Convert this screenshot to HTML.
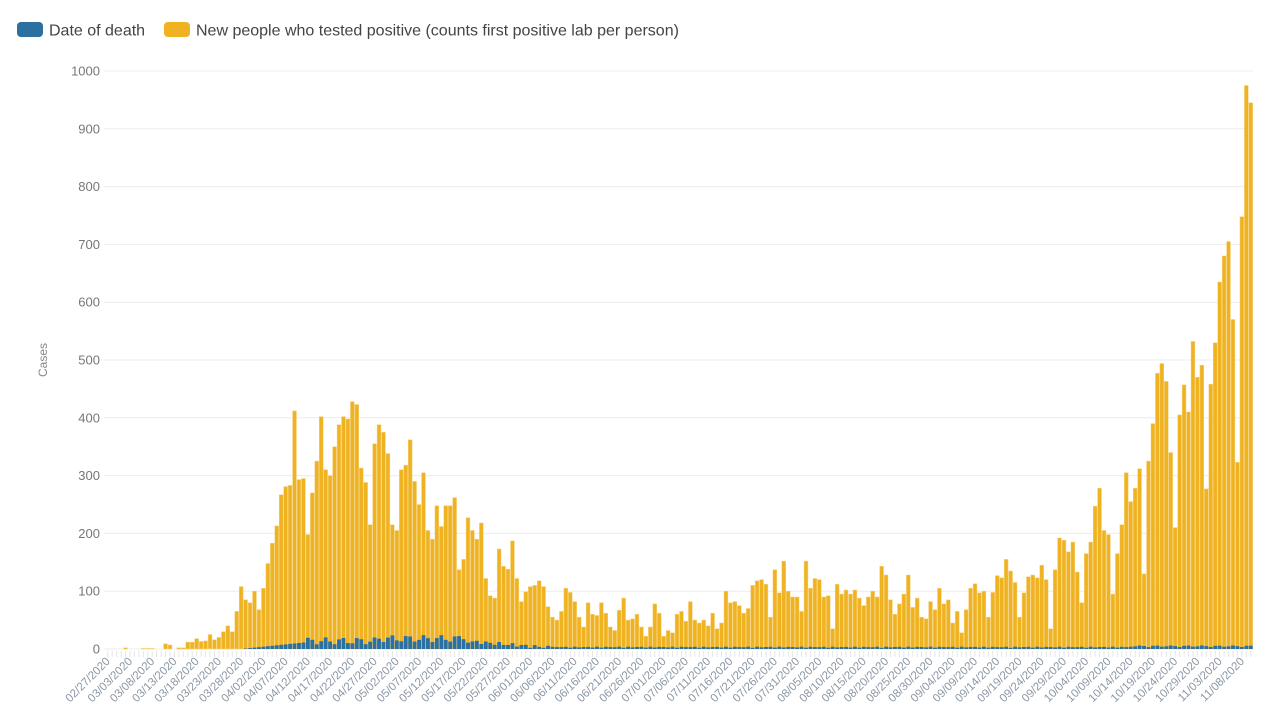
<!DOCTYPE html>
<html><head><meta charset="utf-8"><style>
html,body{margin:0;padding:0;background:#fff;width:1263px;height:711px;overflow:hidden;font-family:"Liberation Sans",sans-serif}
</style></head><body>
<svg id="c" width="1263" height="711" xmlns="http://www.w3.org/2000/svg" font-family="Liberation Sans, sans-serif"></svg>
<script>
var v=[0,0,0,3,0,0,0,0,2,0,0,0,1,1,1,0,0,9,7,0,2,2,12,12,18,13,14,25,16,20,30,40,30,65,108,85,80,100,68,105,148,183,213,267,281,283,412,293,295,198,270,325,402,310,300,350,388,402,398,428,423,313,288,215,355,388,375,338,215,205,310,318,362,290,250,305,205,190,248,212,248,248,262,137,155,227,205,190,218,122,92,88,173,143,138,187,122,82,99,108,110,118,108,73,55,50,65,105,98,82,55,38,80,60,58,80,62,38,32,67,88,50,52,60,38,22,38,78,62,22,32,28,60,65,48,82,50,45,50,40,62,35,45,100,80,82,75,62,70,110,118,120,112,55,137,97,152,100,90,90,65,152,105,122,120,90,92,35,112,95,102,95,102,88,75,90,100,90,143,128,85,60,78,95,128,72,88,55,52,82,68,105,78,85,45,65,28,68,105,113,97,100,55,98,127,123,155,135,115,55,97,125,128,123,145,120,35,137,192,188,168,185,133,80,165,185,247,278,205,198,95,165,215,305,255,278,312,130,325,390,477,494,463,340,210,405,457,410,532,470,491,277,458,530,635,680,705,570,323,748,975,945];
var N=258;
while(v.length<N)v.unshift(0);
v=v.slice(v.length-N);
var x0=105.5,x1=1253,bw=(x1-x0)/N,base=649,k=0.578;
var s='';
for(var g=0;g<=10;g++){var y=base-g*100*k;
 s+='<line x1="104" x2="1253" y1="'+y.toFixed(1)+'" y2="'+y.toFixed(1)+'" stroke="#ececec" stroke-width="1"/>';
 s+='<text x="100" y="'+(y+4.5).toFixed(1)+'" text-anchor="end" font-size="13" fill="#777">'+(g*100)+'</text>';}
s+='<text transform="translate(47,360) rotate(-90)" text-anchor="middle" font-size="12" fill="#888">Cases</text>';
function death(i){
 if(i<30)return 0;
 if(i<45)return (i-30)*0.8;
 if(i<80)return 14+6*Math.sin(i*1.7)+ (i>60?4:0);
 if(i<100)return Math.max(2,14-(i-80)*0.6+3*Math.sin(i*2.3));
 if(i<230)return 2+2*Math.abs(Math.sin(i*1.3));
 return 3+3*Math.abs(Math.sin(i*0.9));
}
for(var i=0;i<N;i++){
 var x=x0+i*bw,h=v[i]*k,d=Math.min(death(i),v[i])*k;
 s+='<line x1="'+(x+bw/2).toFixed(1)+'" x2="'+(x+bw/2).toFixed(1)+'" y1="651" y2="657" stroke="#e6e6e6" stroke-width="1"/>';
 if(h>0)s+='<rect x="'+(x+0.3).toFixed(2)+'" y="'+(base-h).toFixed(1)+'" width="'+(bw-0.6).toFixed(2)+'" height="'+h.toFixed(1)+'" fill="#efb221" stroke="#f6d27e" stroke-width="0.5"/>';
 if(d>0.3)s+='<rect x="'+(x+0.3).toFixed(2)+'" y="'+(base-d).toFixed(1)+'" width="'+(bw-0.6).toFixed(2)+'" height="'+d.toFixed(1)+'" fill="#2b70a0"/>';
}
var start=new Date(2020,1,27);
for(var i=0;i<N;i+=5){
 var dt=new Date(start.getTime()+i*86400000+3600000*12);
 var lab=('0'+(dt.getMonth()+1)).slice(-2)+'/'+('0'+dt.getDate()).slice(-2)+'/2020';
 var cx=x0+i*bw+bw/2+3;
 s+='<text transform="translate('+cx.toFixed(1)+',662) rotate(-45)" text-anchor="end" font-size="11.5" fill="#8a97a5">'+lab+'</text>';
}
s+='<rect x="17" y="22" width="26" height="15" rx="4" fill="#2b70a0"/><text x="49" y="35.5" font-size="16" fill="#444">Date of death</text>';
s+='<rect x="164" y="22" width="26" height="15" rx="4" fill="#efb221"/><text x="196" y="35.5" font-size="16" fill="#444">New people who tested positive (counts first positive lab per person)</text>';
document.getElementById('c').innerHTML=s;
</script>
</body></html>
